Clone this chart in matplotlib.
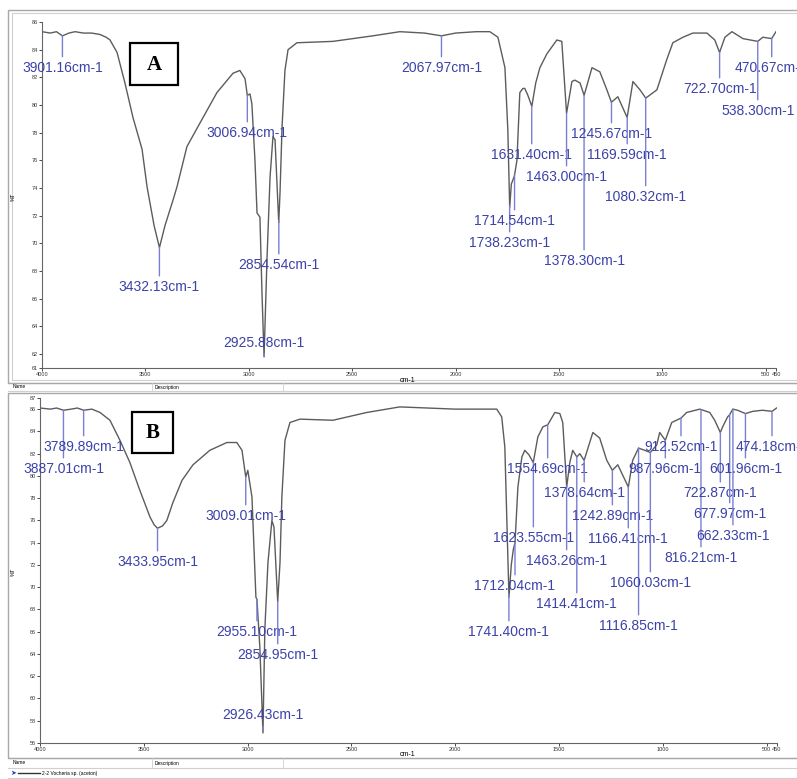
#!/usr/bin/env python3
"""FTIR spectra of two extracts (A, B) with labelled absorption peaks"""

import matplotlib
matplotlib.use("Agg")
import matplotlib.pyplot as plt
from matplotlib.patches import Rectangle
from matplotlib.lines import Line2D
import numpy as np

plt.rcParams["font.family"] = ["Liberation Sans", "DejaVu Sans"]

# spectrum A (wavenumber cm-1, %T)
a_wn = [4000, 3960, 3930, 3901, 3870, 3840, 3800, 3760, 3720, 3690, 3671, 3637,
        3599, 3560, 3516, 3492, 3458, 3432, 3405, 3367, 3347, 3299, 3236, 3154,
        3076, 3043, 3018, 3007, 2994, 2985, 2970, 2960, 2946, 2936, 2926, 2912,
        2897, 2883, 2873, 2855, 2849, 2839, 2825, 2810, 2767, 2593, 2400, 2269,
        2150, 2068, 2000, 1900, 1834, 1795, 1761, 1747, 1738, 1730, 1722, 1715,
        1703, 1689, 1674, 1665, 1650, 1631, 1612, 1592, 1558, 1510, 1486, 1463,
        1437, 1423, 1398, 1378, 1340, 1302, 1268, 1246, 1215, 1170, 1142, 1108,
        1080, 1026, 978, 949, 900, 852, 784, 746, 723, 697, 663, 610, 538, 514,
        471, 450]
a_t = [85.3, 85.2, 85.3, 85.0, 85.2, 85.3, 85.2, 85.2, 85.1, 84.9, 84.7, 83.8,
       81.6, 79.1, 76.8, 74.1, 71.3, 69.7, 71.3, 73.1, 74.1, 77.0, 78.7, 80.9,
       82.3, 82.5, 81.9, 80.7, 80.8, 80.1, 76.0, 72.2, 71.9, 66.4, 61.8, 68.8,
       74.8, 77.7, 77.5, 71.5, 73.6, 78.4, 82.5, 84.0, 84.5, 84.6, 85.0, 85.3,
       85.2, 85.0, 85.2, 85.3, 85.3, 84.9, 82.7, 78.2, 72.6, 74.3, 74.6, 74.9,
       76.0, 80.9, 81.2, 81.2, 80.7, 79.9, 81.6, 82.7, 83.7, 84.7, 84.6, 79.4,
       81.7, 81.8, 81.6, 80.7, 82.7, 82.4, 81.1, 80.2, 80.6, 79.1, 81.7, 81.1,
       80.5, 81.1, 83.3, 84.5, 84.9, 85.2, 85.2, 84.7, 83.8, 84.9, 85.3, 84.8,
       84.6, 84.9, 84.8, 85.3]

a_peaks = [3901.16, 3432.13, 3006.94, 2925.88, 2854.54, 2067.97, 1738.23,
           1714.54, 1631.40, 1463.00, 1378.30, 1245.67, 1169.59, 1080.32,
           722.70, 538.30, 470.67]
a_label_t = [82.68, 66.85, 77.98, 62.81, 68.44, 82.68, 70.03, 71.62, 76.39,
             74.80, 68.73, 77.91, 76.39, 73.36, 81.16, 79.57, 82.68]

# spectrum B
b_wn = [4000, 3950, 3920, 3887, 3850, 3820, 3790, 3750, 3711, 3663, 3615, 3567,
        3519, 3470, 3450, 3434, 3410, 3389, 3360, 3316, 3263, 3182, 3100, 3052,
        3027, 3009, 2999, 2979, 2960, 2955, 2941, 2926, 2917, 2902, 2883, 2873,
        2855, 2844, 2835, 2820, 2796, 2748, 2589, 2426, 2267, 2000, 1800, 1776,
        1761, 1747, 1741, 1730, 1720, 1712, 1698, 1679, 1665, 1645, 1624, 1602,
        1578, 1554, 1520, 1496, 1482, 1463, 1448, 1434, 1414, 1400, 1379, 1337,
        1304, 1270, 1243, 1217, 1166, 1145, 1117, 1087, 1060, 1029, 1015, 988,
        957, 912, 885, 822, 774, 750, 723, 712, 688, 678, 663, 640, 602, 567,
        520, 474, 452]
b_t = [86.1, 86.0, 86.1, 85.9, 86.0, 86.1, 85.9, 86.0, 85.7, 85.0, 83.2, 81.2,
       78.7, 76.3, 75.6, 75.3, 75.5, 76.0, 77.6, 79.6, 81.0, 82.3, 83.0, 83.0,
       82.3, 79.9, 80.5, 78.1, 69.1, 68.9, 64.6, 56.9, 66.2, 72.2, 76.0, 75.4,
       68.7, 72.2, 78.1, 83.2, 84.8, 85.1, 85.0, 85.7, 86.2, 86.0, 86.0, 85.3,
       82.6, 73.1, 69.1, 72.0, 73.4, 74.0, 79.0, 81.7, 82.3, 81.9, 81.2, 83.5,
       84.4, 84.6, 85.7, 85.6, 84.8, 79.0, 81.2, 82.3, 81.7, 82.0, 81.4, 83.9,
       83.4, 81.4, 80.5, 81.0, 79.0, 81.4, 82.5, 82.3, 82.1, 82.8, 83.9, 83.2,
       84.8, 85.2, 85.7, 86.0, 85.7, 85.0, 83.9, 84.4, 85.3, 85.5, 86.0, 85.9,
       85.6, 85.8, 85.9, 85.8, 86.1]

b_peaks = [3887.01, 3789.89, 3433.95, 3009.01, 2955.10, 2926.43, 2854.95,
           1741.40, 1712.04, 1623.55, 1554.69, 1463.26, 1414.41, 1378.64,
           1242.89, 1166.41, 1116.85, 1060.03, 987.96, 912.52, 816.21, 722.87,
           677.97, 662.33, 601.96, 474.18]
b_label_t = [80.62, 82.60, 72.27, 76.40, 65.98, 58.52, 63.91, 65.98, 70.11,
             74.42, 80.62, 72.36, 68.49, 78.46, 76.40, 74.33, 66.51, 70.38,
             80.62, 82.60, 72.62, 78.46, 76.58, 74.60, 80.62, 82.60]

x_ticks = [4000, 3500, 3000, 2500, 2000, 1500, 1000, 500, 450]

W, H = 797, 779
LINE = "#5c5c5c"
LBL = "#3c42a8"
TICK = "#7a7fd4"
FRAME = "#a8a8a8"


def fx(x):
    return x / W


def fy(y):
    return 1 - y / H


def spectrum(fig, rect, wn, t, peaks, label_t, ylim, yticks):
    ax = fig.add_axes(rect)
    ax.plot(wn, t, color=LINE, lw=1.0)
    ax.set_xlim(4000, 450)
    ax.set_ylim(*ylim)
    ax.set_xticks(x_ticks)
    ax.set_xticklabels([str(v) for v in x_ticks], fontsize=4, color="#333333")
    ax.set_yticks(yticks)
    ax.set_yticklabels([str(v) for v in yticks], fontsize=4, color="#333333")
    ax.tick_params(length=2, width=0.5, pad=1)
    for s in ["top", "right"]:
        ax.spines[s].set_visible(False)
    for s in ["left", "bottom"]:
        ax.spines[s].set_color("#666666")
        ax.spines[s].set_linewidth(0.8)
    ax.patch.set_alpha(0)

    wn_r = np.array(wn)[::-1]
    t_r = np.array(t)[::-1]
    for p, ly in zip(peaks, label_t):
        pt = np.interp(p, wn_r, t_r)
        rel = (0.5, 1.0) if ly < pt else (0.5, 0.0)
        ax.annotate(f"{p:.2f}cm-1", xy=(p, pt), xytext=(p, ly),
                    ha="center", va="center", fontsize=10, color=LBL,
                    annotation_clip=False,
                    arrowprops=dict(arrowstyle="-", color=TICK, lw=1.0,
                                    shrinkA=1, shrinkB=0, relpos=rel))
    return ax


def frame(fig, x0, y0, x1, y1, **kw):
    fig.add_artist(Rectangle((fx(x0), fy(y1)), fx(x1 - x0), (y1 - y0) / H,
                             transform=fig.transFigure, fill=False, **kw))


def hline(fig, y, x0=8, x1=W, **kw):
    fig.add_artist(Line2D([fx(x0), fx(x1)], [fy(y), fy(y)],
                          transform=fig.transFigure, **kw))


def vline(fig, x, y0, y1, **kw):
    fig.add_artist(Line2D([fx(x), fx(x)], [fy(y0), fy(y1)],
                          transform=fig.transFigure, **kw))


def main():
    fig = plt.figure(figsize=(W / 100, H / 100), dpi=100)

    # panel frames
    frame(fig, 8, 10, 800, 383, edgecolor=FRAME, lw=1.0)
    frame(fig, 12, 13, 800, 380, edgecolor="#d0d0d0", lw=0.8)
    frame(fig, 8, 393, 800, 758, edgecolor=FRAME, lw=1.0)

    # header rows under each panel
    for y0, y1 in [(383, 391), (758, 768)]:
        hline(fig, y0, color=FRAME, lw=0.8)
        hline(fig, y1, color="#d0d0d0", lw=0.8)
        vline(fig, 152, y0, y1, color="#d0d0d0", lw=0.6)
        vline(fig, 283, y0, y1, color="#d0d0d0", lw=0.6)
        fig.text(fx(13), fy((y0 + y1) / 2), "Name", fontsize=3.5, va="center")
        fig.text(fx(155), fy((y0 + y1) / 2), "Description", fontsize=3.5,
                 va="center")
    hline(fig, 778, color="#d0d0d0", lw=0.8)
    fig.add_artist(Line2D([fx(18), fx(40)], [fy(773), fy(773)],
                          transform=fig.transFigure, color="#333333", lw=1))
    fig.text(fx(10), fy(773), "➤", fontsize=5, color="#2040c0", va="center",
             family=["DejaVu Sans"])
    fig.text(fx(42), fy(773), "2-2 Vocheria sp. (aceton)", fontsize=3.5,
             va="center")

    ax_a = spectrum(fig, [fx(42), fy(368), fx(776 - 42), (368 - 22) / H],
                    a_wn, a_t, a_peaks, a_label_t, (61, 86),
                    [61] + list(range(62, 87, 2)))
    ax_b = spectrum(fig, [fx(40), fy(743), fx(777 - 40), (743 - 398) / H],
                    b_wn, b_t, b_peaks, b_label_t, (56, 87),
                    list(range(56, 87, 2)) + [87])

    for y in [380, 754]:
        fig.text(fx(408), fy(y), "cm-1", fontsize=5, ha="center", va="center")
    for y in [197, 572]:
        fig.text(fx(13), fy(y), "%T", fontsize=4, rotation=90, ha="center",
                 va="center")

    # panel letters
    for (x0, y0, x1, y1), letter in [((130, 43, 178, 85), "A"),
                                     ((132, 412, 173, 453), "B")]:
        frame(fig, x0, y0, x1, y1, edgecolor="black", lw=1.6,
              facecolor="white")
        fig.text(fx((x0 + x1) / 2), fy((y0 + y1) / 2 + 1), letter,
                 fontsize=15, fontweight="bold", family=["Liberation Serif"],
                 ha="center", va="center")

    fig.savefig("out.png", dpi=100)


if __name__ == "__main__":
    main()
